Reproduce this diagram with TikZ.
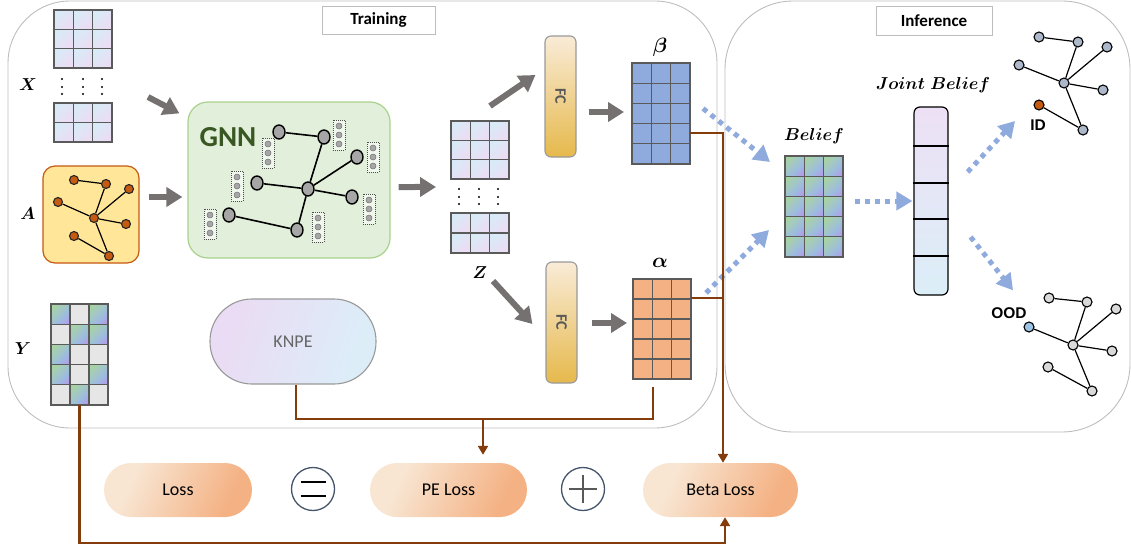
\documentclass[tikz,border=0pt]{standalone}
\usepackage{fontspec}
\usepackage{amsmath}
\usepackage{bm}
\usetikzlibrary{arrows.meta,shapes.geometric}
\newfontfamily\calibri{Carlito}
\newfontfamily\arialf{Liberation Sans}

\definecolor{regiongray}{HTML}{BDBDBD}
\definecolor{gridgray}{HTML}{5A5A5A}
\definecolor{arrgray}{HTML}{767171}
\definecolor{dotblue}{HTML}{8FAADC}
\definecolor{brownc}{HTML}{843C0C}
\definecolor{betablue}{HTML}{8FAADC}
\definecolor{alphaorange}{HTML}{F4B183}
\definecolor{gnnfill}{HTML}{E2EFDA}
\definecolor{gnnborder}{HTML}{A9D18E}
\definecolor{gnntext}{HTML}{385723}
\definecolor{afill}{HTML}{FFE699}
\definecolor{aborder}{HTML}{C55A11}
\definecolor{anode}{HTML}{C55A11}
\definecolor{fctop}{HTML}{F9EBD7}
\definecolor{fcbot}{HTML}{E6B94C}
\definecolor{lossL}{HTML}{F8E6D3}
\definecolor{lossR}{HTML}{F4B183}
\definecolor{knpeL}{HTML}{EADCF4}
\definecolor{knpeR}{HTML}{DCEDF8}
\definecolor{cellB}{HTML}{D9EAF7}
\definecolor{cellP}{HTML}{EBDDF3}
\definecolor{rainG}{HTML}{A8D4A0}
\definecolor{rainGB}{HTML}{A2C6C8}
\definecolor{rainB}{HTML}{9DB9E2}
\definecolor{rainP}{HTML}{B49BE6}
\definecolor{ygray}{HTML}{E7E6E6}
\definecolor{idnode}{HTML}{ADB9CA}
\definecolor{oodnode}{HTML}{D9D9D9}
\definecolor{oodblue}{HTML}{9DC3E6}
\definecolor{circborder}{HTML}{44546A}
\definecolor{jtop}{HTML}{EDE0F5}
\definecolor{jbot}{HTML}{DBEEF8}
\definecolor{fctext}{HTML}{595959}

% colour ramps for cells and rounded boxes
\pgfdeclarehorizontalshading{featshade}{100bp}{color(0bp)=(cellB); color(28bp)=(cellB); color(72bp)=(cellP); color(100bp)=(cellP)}
\pgfdeclarehorizontalshading{rainshade}{100bp}{color(0bp)=(rainG); color(20bp)=(rainG); color(45bp)=(rainGB); color(62bp)=(rainB); color(80bp)=(rainP); color(100bp)=(rainP)}
\pgfdeclarehorizontalshading{lossshade}{100bp}{color(0bp)=(lossL); color(30bp)=(lossL); color(72bp)=(lossR); color(100bp)=(lossR)}
\pgfdeclarehorizontalshading{knpeshade}{100bp}{color(0bp)=(knpeL); color(28bp)=(knpeL); color(72bp)=(knpeR); color(100bp)=(knpeR)}

% grid lines of a cell matrix: name, cols, rows, cell width, cell height
\newcommand\gridlines[5]{%
  \foreach \i in {1,...,#2}{\foreach \j in {1,...,#3}{%
    \draw[gridline] ([shift={({(\i-1)*#4},{(\j-1)*#5})}]#1.north west) rectangle ++(#4,#5);}}%
}
% cell matrix: name, centre, cols, rows, cell width, cell height, cell style
\newcommand\mgrid[7]{%
  \node[inner sep=0pt, outer sep=0pt, minimum width=#3*#5pt, minimum height=#4*#6pt] (#1) at #2 {};
  \foreach \i in {1,...,#3}{\foreach \j in {1,...,#4}{%
    \path[#7] ([shift={({(\i-1)*#5},{(\j-1)*#6})}]#1.north west) rectangle ++(#5,#6);}}%
  \gridlines{#1}{#3}{#4}{#5}{#6}%
}
% dotted feature column beside a GNN vertex
\newcommand\featcol[3]{%
  \node[featbox] (#1) at (#2,#3) {};
  \foreach \d in {-9,0,9}{\path[featdot] (#2,#3+\d) circle (3);}%
}

\begin{document}
\begin{tikzpicture}[x=1pt,y=-1pt,
  region/.style={draw=regiongray, line width=0.9pt, rounded corners=62pt},
  titlebox/.style={draw=regiongray, fill=white, line width=0.9pt, inner sep=0pt,
    font=\calibri\bfseries\fontsize{17}{20}\selectfont},
  gridline/.style={draw=gridgray, line width=1.1pt},
  featcell/.style={shading=featshade, shading angle=-45},
  raincell/.style={shading=rainshade, shading angle=-45},
  mlabel/.style={inner sep=0pt, font=\fontsize{17}{20}\selectfont},
  glabel/.style={inner sep=0pt, font=\fontsize{20}{22}\selectfont},
  garrow/.style={draw=arrgray, line width=6pt, -{Triangle[length=16pt,width=19pt]}},
  barrow/.style={draw=dotblue, line width=5pt, dash pattern=on 5pt off 5pt, -{Triangle[length=16pt,width=18pt]}},
  brownline/.style={draw=brownc, line width=2.5pt},
  btip/.style={-{Triangle[length=9pt,width=10pt]}},
  anode/.style={circle, draw=black!85, line width=1.1pt, fill=anode, minimum size=9pt, inner sep=0pt},
  gnode/.style={ellipse, draw=black, line width=1.4pt, fill=black!35, minimum width=12pt, minimum height=14pt, inner sep=0pt},
  gedge/.style={draw=black, line width=1.6pt},
  sedge/.style={draw=black, line width=1.2pt},
  featbox/.style={draw=black!70, densely dotted, line width=1pt, fill=gnnfill!50!white, minimum width=12pt, minimum height=30pt, inner sep=0pt},
  featdot/.style={fill=black!35, draw=black!55, line width=0.5pt},
  inode/.style={circle, draw=black, line width=1.1pt, fill=idnode, minimum size=10pt, inner sep=0pt},
  onode/.style={circle, draw=black, line width=1.1pt, fill=oodnode, minimum size=10pt, inner sep=0pt},
  fcbox/.style={draw=black!40, line width=1.1pt, rounded corners=6pt, top color=fctop, bottom color=fcbot,
    minimum width=31pt, minimum height=121pt, inner sep=0pt},
  fctxt/.style={rotate=-90, text=fctext, font=\calibri\bfseries\fontsize{16}{17}\selectfont},
  lossbox/.style={shading=lossshade, shading angle=-25, rounded corners=27pt, minimum height=54pt, inner sep=0pt,
    font=\calibri\fontsize{18}{20}\selectfont},
  opcirc/.style={circle, draw=circborder, line width=1.3pt, minimum size=43pt, inner sep=0pt},
]
\useasboundingbox (0,0) rectangle (1131,551);

% ---------- the two stages ----------
\draw[region] (8,1) rectangle (717,428);
\draw[region, rounded corners=68pt] (725,1) rectangle (1130,432);
\node[titlebox, minimum width=113pt, minimum height=28pt] (traintitle) at (378.5,20) {Training};
\node[titlebox, minimum width=116pt, minimum height=29pt] (infertitle) at (934,20.5) {Inference};

% ---------- node features X ----------
\mgrid{xtop}{(83,39)}{3}{3}{19.33}{19.33}{featcell}
\mgrid{xbot}{(83,122.5)}{3}{2}{19.33}{19.5}{featcell}
\foreach \x in {62,83,102}{\foreach \y in {79,87,94}{\fill (\x,\y) circle (1.1);}}
\node[mlabel] (xlab) at (28,85) {$\bm{X}$};

% ---------- adjacency A ----------
\node[draw=aborder, line width=1.2pt, fill=afill, rounded corners=12pt, minimum width=96pt, minimum height=97pt] (abox) at (91,214.5) {};
\node[mlabel] (alab) at (28,214) {$\bm{A}$};
\node[anode] (aa) at (74,180) {};
\node[anode] (ab) at (106,184) {};
\node[anode] (ac) at (129,189) {};
\node[anode] (ad) at (58,202) {};
\node[anode] (ae) at (94,218) {};
\node[anode] (af) at (126,224) {};
\node[anode] (ag) at (74,236) {};
\node[anode] (ah) at (109,256) {};
\foreach \p/\q in {aa/ab, ab/ae, ac/ae, ad/ae, ae/af, ae/ah, ag/ah}{\draw[sedge] (\p) -- (\q);}

% ---------- labels Y ----------
\mgrid{ymat}{(79.5,354.5)}{3}{5}{19}{20.2}{fill=ygray}
\foreach \i/\j in {1/1,3/1,2/2,3/2,1/3,1/4,3/4,2/5}{%
  \path[raincell] ([shift={({(\i-1)*19},{(\j-1)*20.2})}]ymat.north west) rectangle ++(19,20.2);}
\gridlines{ymat}{3}{5}{19}{20.2}
\node[mlabel] (ylab) at (23,349) {$\bm{Y}$};

% ---------- GNN ----------
\node[draw=gnnborder, line width=1.2pt, fill=gnnfill, rounded corners=20pt, minimum width=202pt, minimum height=156pt] (gnn) at (289,180) {};
\node[inner sep=0pt, text=gnntext, font=\calibri\bfseries\fontsize{29}{30}\selectfont] (gnnlab) at (228,137) {GNN};
\featcol{fa}{339}{135}
\featcol{fb}{268}{153}
\featcol{fc}{373}{157}
\featcol{fd}{237}{186}
\featcol{fe}{369}{209}
\featcol{ff}{210}{224}
\featcol{fg}{318}{227}
\node[gnode] (ga) at (279,132) {};
\node[gnode] (gb) at (324,137) {};
\node[gnode] (gc) at (357,157) {};
\node[gnode] (gd) at (257,183) {};
\node[gnode] (ge) at (308,189) {};
\node[gnode] (gf) at (352,197) {};
\node[gnode] (gg) at (229,215) {};
\node[gnode] (gh) at (297,230) {};
\foreach \p/\q in {ga/gb, gb/ge, gc/ge, gd/ge, ge/gf, ge/gh, gg/gh}{\draw[gedge] (\p) -- (\q);}

% ---------- embeddings Z ----------
\mgrid{ztop}{(480,150)}{3}{3}{19.33}{19.33}{featcell}
\mgrid{zbot}{(480,233)}{3}{2}{19.33}{20}{featcell}
\foreach \x in {459,479,498}{\foreach \y in {189,197,204}{\fill (\x,\y) circle (1.1);}}
\node[mlabel] (zlab) at (480,273) {$\bm{Z}$};

% ---------- heads ----------
\node[fcbox] (fc1) at (560.5,96.5) {};
\node[fctxt] at (fc1) {FC};
\node[fcbox] (fc2) at (561.5,322.5) {};
\node[fctxt] at (fc2) {FC};
\mgrid{beta}{(661,113.5)}{3}{5}{19.33}{20.2}{fill=betablue}
\node[glabel] (betalab) at (660,47) {$\bm{\beta}$};
\mgrid{alpha}{(662,329)}{3}{5}{19.33}{20}{fill=alphaorange}
\node[glabel] (alphalab) at (660,263) {$\bm{\alpha}$};

% ---------- KNPE ----------
\node[draw=black!40, line width=1.1pt, shading=knpeshade, shading angle=-20, rounded corners=42pt,
  minimum width=166pt, minimum height=85pt, text=black!60, font=\calibri\fontsize{18}{20}\selectfont] (knpe) at (293,341.5) {KNPE};

% ---------- losses ----------
\node[lossbox, minimum width=148pt] (loss) at (178,490) {Loss};
\node[opcirc] (eqc) at (313,489) {};
\draw[line width=2pt] ([shift={(-12.5,-7)}]eqc.center) -- ++(25,0);
\draw[line width=2pt] ([shift={(-12.5,7)}]eqc.center) -- ++(25,0);
\node[lossbox, minimum width=157pt] (peloss) at (448.5,490) {PE Loss};
\node[opcirc] (plusc) at (583,489) {};
\draw[line width=1.5pt, draw=black!65] ([xshift=-14pt]plusc.center) -- ([xshift=14pt]plusc.center);
\draw[line width=1.5pt, draw=black!65] ([yshift=-14pt]plusc.center) -- ([yshift=14pt]plusc.center);
\node[lossbox, minimum width=155pt] (betaloss) at (720.5,490) {Beta Loss};

% ---------- inference ----------
\mgrid{belief}{(814,206.5)}{3}{5}{19.33}{20.2}{raincell}
\node[mlabel, font=\fontsize{18}{20}\selectfont] (belieflab) at (814,136) {$\bm{Belief}$};
\node[draw=black, line width=1.2pt, rounded corners=6pt, top color=jtop, bottom color=jbot,
  minimum width=34pt, minimum height=188pt, inner sep=0pt] (joint) at (931,201) {};
\foreach \y in {146,183,219,256}{\draw[line width=1.1pt] (joint.west |- 0,\y) -- (joint.east |- 0,\y);}
\node[mlabel, font=\fontsize{18}{20}\selectfont] (jointlab) at (933,85) {$\bm{Joint\ Belief}$};

% ID graph
\node[inode] (ia) at (1039,37) {};
\node[inode] (ib) at (1078,42) {};
\node[inode] (ic) at (1107,47) {};
\node[inode] (id) at (1019,65) {};
\node[inode] (ie) at (1064,83) {};
\node[inode] (if) at (1103,90) {};
\node[inode, fill=anode] (ig) at (1039,105) {};
\node[inode] (ih) at (1083,130) {};
\foreach \p/\q in {ia/ib, ib/ie, ic/ie, id/ie, ie/if, ie/ih, ig/ih}{\draw[sedge] (\p) -- (\q);}
\node[inner sep=0pt, font=\arialf\bfseries\fontsize{15.5}{17}\selectfont] (idlab) at (1038,125) {ID};

% OOD graph
\node[onode] (oa) at (1049,298) {};
\node[onode] (ob) at (1087,302) {};
\node[onode] (oc) at (1116,309) {};
\node[onode, fill=oodblue] (od) at (1029,327) {};
\node[onode] (oe) at (1073,345) {};
\node[onode] (of) at (1112,351) {};
\node[onode] (og) at (1048,367) {};
\node[onode] (oh) at (1092,391) {};
\foreach \p/\q in {oa/ob, ob/oe, oc/oe, od/oe, oe/of, oe/oh, og/oh}{\draw[sedge] (\p) -- (\q);}
\node[inner sep=0pt, font=\arialf\bfseries\fontsize{15.5}{17}\selectfont] (oodlab) at (1009,313) {OOD};

% ---------- grey flow arrows ----------
\draw[garrow] ([shift={(36,-6)}]xbot.north east) -- ([shift={(-8,12)}]gnn.north west);
\draw[garrow] ([shift={(9,-17.5)}]abox.east) -- ([shift={(-5,17)}]gnn.west);
\draw[garrow] ([shift={(8,7)}]gnn.east) -- ([shift={(-15,8)}]ztop.south west);
\draw[garrow] ([shift={(10,-15)}]ztop.north) -- ([shift={(-9,-21.5)}]fc1.west);
\draw[garrow] ([shift={(12,15.5)}]fc1.east) -- ([shift={(-8,-1.5)}]beta.west);
\draw[garrow] ([shift={(13,8)}]zlab.center) -- ([shift={(-13,1.5)}]fc2.west);
\draw[garrow] ([shift={(14,0.5)}]fc2.east) -- ([shift={(-6,-6)}]alpha.west);

% ---------- dotted inference arrows ----------
\draw[barrow] ([shift={(13,-5)}]beta.east) -- ([shift={(-15,6)}]belief.north west);
\draw[barrow] ([shift={(15,14)}]alpha.north east) -- ([shift={(-16,-27)}]belief.south west);
\draw[barrow] ([shift={(12,-5.5)}]belief.east) -- ([shift={(-1,0)}]joint.west);
\draw[barrow] ([shift={(19,-29)}]joint.east) -- ([shift={(-15,-4)}]idlab.west);
\draw[barrow] ([shift={(22,36)}]joint.east) -- ([shift={(4,-17)}]oodlab.north);

% ---------- loss wiring ----------
\draw[brownline, btip] ([yshift=-19.5pt]beta.east) -| ([xshift=2.5pt]betaloss.north);
\draw[brownline] ([yshift=31pt]alpha.east) -- +(32,0);
\draw[brownline] ([xshift=3pt]knpe.south) |- ([shift={(-9,40)}]alpha.south) -- ([shift={(-9,8)}]alpha.south);
\coordinate (pejoin) at (483,419);
\draw[brownline, btip, shorten >=8pt] (pejoin) -- (pejoin |- peloss.north);
\draw[brownline, btip] (ymat.south) -- ++(0,138) -| ([xshift=4.5pt]betaloss.south);
\end{tikzpicture}
\end{document}
